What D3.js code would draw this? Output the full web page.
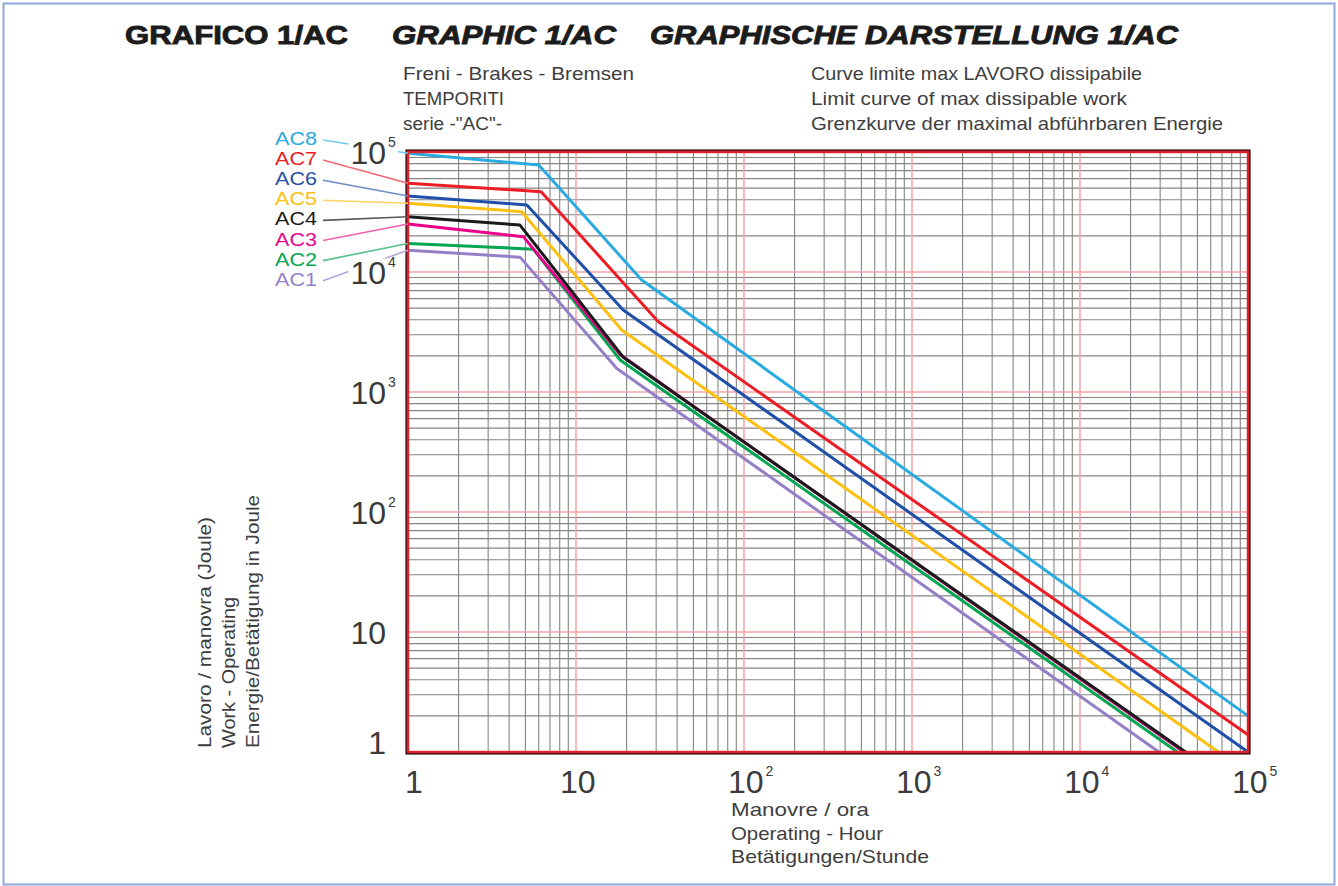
<!DOCTYPE html>
<html><head><meta charset="utf-8">
<script src="https://cdn.jsdelivr.net/npm/d3@7"></script>
<style>body{margin:0;background:#fff;overflow:hidden}</style>
</head><body>
<script>
// ---------- DATA ----------
const seriesNames = ["AC8","AC7","AC6","AC5","AC4","AC3","AC2","AC1"];
const seriesColors = ["#29abe2","#ed1c24","#1f4fa8","#fdc010","#1a1a1a","#ec008c","#00a651","#9580c8"];
const leaderColors = ["#72c8ee","#f26a70","#6d8cc9","#fdd462","#5a5a5a","#f25fb2","#55c38e","#b2a6da"];
// [operations per hour, joule]
const ac8 = [[1,97500],[6.0,78000],[24.6,8570],[100000,2]];
const ac7 = [[1,54800],[6.2,46700],[30.9,3850],[100000,1.39]];
const ac6 = [[1,43000],[5.1,36200],[19.1,4820],[100000,1]];
const ac5 = [[1,37400],[4.75,31800],[18.7,3290],[66600,1]];
const ac4 = [[1,28900],[4.64,24600],[19.1,1950],[42500,1]];
const ac3 = [[1,25100],[4.86,19700],[18.3,2050],[41500,1]];
const ac2 = [[1,17300],[5.57,15500],[18.3,1850],[38000,1]];
const ac1 = [[1,15200],[4.64,13300],[17.5,1570],[29500,1]];
const seriesData = [ac8,ac7,ac6,ac5,ac4,ac3,ac2,ac1];
const decadeTicks = [1,10,100,1000,10000,100000];
const titleTexts = ["GRAFICO 1/AC","GRAPHIC 1/AC","GRAPHISCHE DARSTELLUNG 1/AC"];
const subtitleLeft = ["Freni - Brakes - Bremsen","TEMPORITI","serie -\"AC\"-"];
const subtitleRight = ["Curve limite max LAVORO dissipabile","Limit curve of max dissipable work","Grenzkurve der maximal abführbaren Energie"];
const xTitle = ["Manovre / ora","Operating - Hour","Betätigungen/Stunde"];
const yTitle = ["Lavoro / manovra (Joule)","Work - Operating","Energie/Betätigung in Joule"];

// ---------- LAYOUT ----------
const W = 1338, H = 886;
const P = {left:408, right:1248, top:152, bottom:752};
const condensed = "'Liberation Sans Narrow','Arial Narrow','Liberation Sans',Arial,sans-serif";
const wide = "'Liberation Sans',Arial,sans-serif";

const svg = d3.select("body").append("svg").attr("width",W).attr("height",H);

// outer frame
svg.append("rect").attr("x",3.5).attr("y",3.5).attr("width",1331).attr("height",881)
  .attr("fill","#fff").attr("stroke","#8fa8dc").attr("stroke-width",2);

const x = d3.scaleLog().domain([1,1e5]).range([P.left,P.right]);
const y = d3.scaleLog().domain([1,1e5]).range([P.bottom,P.top]);
const isDecade = v => Math.abs(Math.log10(v) - Math.round(Math.log10(v))) < 1e-9;

// grid
const grid = svg.append("g");
const xt = x.ticks(), yt = y.ticks();
grid.selectAll(".vg").data(xt.filter(v=>!isDecade(v))).join("line")
  .attr("x1",d=>x(d)).attr("x2",d=>x(d)).attr("y1",P.top).attr("y2",P.bottom)
  .attr("stroke","#858585").attr("stroke-width",1.1);
grid.selectAll(".hg").data(yt.filter(v=>!isDecade(v))).join("line")
  .attr("y1",d=>y(d)).attr("y2",d=>y(d)).attr("x1",P.left).attr("x2",P.right)
  .attr("stroke","#858585").attr("stroke-width",1.1);
grid.selectAll(".vd").data(decadeTicks.slice(1,-1)).join("line")
  .attr("x1",d=>x(d)).attr("x2",d=>x(d)).attr("y1",P.top).attr("y2",P.bottom)
  .attr("stroke","#f2a3a6").attr("stroke-width",1.5);
grid.selectAll(".hd").data(decadeTicks.slice(1,-1)).join("line")
  .attr("y1",d=>y(d)).attr("y2",d=>y(d)).attr("x1",P.left).attr("x2",P.right)
  .attr("stroke","#f2a3a6").attr("stroke-width",1.5);

// curves (AC1 drawn first)
const line = d3.line().x(d=>x(d[0])).y(d=>y(d[1]));
const order = d3.range(seriesData.length).reverse();
svg.append("g").selectAll("path").data(order).join("path")
  .attr("d",i=>line(seriesData[i])).attr("fill","none")
  .attr("stroke",i=>seriesColors[i]).attr("stroke-width",3)
  .attr("stroke-linejoin","round");

// plot border
svg.append("rect").attr("x",P.left-1.8).attr("y",P.top-1.8)
  .attr("width",P.right-P.left+3.6).attr("height",P.bottom-P.top+3.6)
  .attr("fill","none").attr("stroke","#3a1012").attr("stroke-width",1.6);
svg.append("rect").attr("x",P.left).attr("y",P.top)
  .attr("width",P.right-P.left).attr("height",P.bottom-P.top)
  .attr("fill","none").attr("stroke","#e0222c").attr("stroke-width",2.4);

// legend leaders + labels
const legX = 275, legY0 = 138, legDy = 20.1;
const leg = svg.append("g");
leg.selectAll("line").data(seriesNames).join("line")
  .attr("x1",323).attr("y1",(d,i)=>legY0+i*legDy+2)
  .attr("x2",x(1)).attr("y2",(d,i)=>y(seriesData[i][0][1]))
  .attr("stroke",(d,i)=>leaderColors[i]).attr("stroke-width",1.6);

// y tick labels (with white background to break leader lines)
const yLab = svg.append("g").attr("font-family",wide).attr("fill","#3a3a3a");
decadeTicks.forEach(v=>{
  const e = Math.round(Math.log10(v));
  const g = yLab.append("g");
  const base = y(v) + 11.5 - (e===0 ? 9.5 : 0);
  g.append("text").attr("x",386).attr("y",base).attr("text-anchor","end")
    .attr("font-size",32).text(e===0?"1":"10");
  if (e>=2) g.append("text").attr("x",388).attr("y",base-17).attr("font-size",14).text(e);
  const bb = g.node().getBBox();
  g.insert("rect",":first-child").attr("x",bb.x-2).attr("y",bb.y+5).attr("width",bb.width+4).attr("height",bb.height-9).attr("fill","#fff");
});

// x tick labels
const xLab = svg.append("g").attr("font-family",wide).attr("fill","#3a3a3a");
decadeTicks.forEach(v=>{
  const e = Math.round(Math.log10(v));
  const sx = x(v) - (e===0 ? 3 : 16);
  const t = xLab.append("text").attr("x",sx).attr("y",792.5).attr("font-size",32).text(e===0?"1":"10");
  if (e>=2) xLab.append("text").attr("x",sx+t.node().getComputedTextLength()+2).attr("y",775.5).attr("font-size",14).text(e);
});

leg.selectAll("text").data(seriesNames).join("text")
  .attr("x",legX).attr("y",(d,i)=>legY0+i*legDy+7)
  .attr("font-family",wide).attr("font-size",18.5)
  .attr("textLength",42).attr("lengthAdjust","spacingAndGlyphs")
  .attr("fill",(d,i)=>seriesColors[i]).text(d=>d);

// titles
const titleX = [125,392,650], titleW = [223,224,528];
svg.append("g").selectAll("text").data(titleTexts).join("text")
  .attr("x",(d,i)=>titleX[i]).attr("y",44)
  .attr("font-family",wide).attr("font-weight","bold").attr("font-size",26)
  .attr("font-style",(d,i)=>i===0?"normal":"italic")
  .attr("fill","#1c1c1c").attr("stroke","#1c1c1c").attr("stroke-width",0.9)
  .attr("textLength",(d,i)=>titleW[i]).attr("lengthAdjust","spacingAndGlyphs")
  .text(d=>d);

// subtitles
const subLW = [231,101,99], subRW = [331,316,412];
svg.append("g").selectAll("text").data(subtitleLeft).join("text")
  .attr("x",403).attr("y",(d,i)=>80+i*25)
  .attr("font-family",condensed).attr("font-size",19).attr("fill","#3e3e3e")
  .attr("textLength",(d,i)=>subLW[i]).attr("lengthAdjust","spacingAndGlyphs").text(d=>d);
svg.append("g").selectAll("text").data(subtitleRight).join("text")
  .attr("x",811).attr("y",(d,i)=>80+i*25)
  .attr("font-family",condensed).attr("font-size",19).attr("fill","#3e3e3e")
  .attr("textLength",(d,i)=>subRW[i]).attr("lengthAdjust","spacingAndGlyphs").text(d=>d);

// axis titles
const xTW = [138,152,198];
svg.append("g").selectAll("text").data(xTitle).join("text")
  .attr("x",731).attr("y",(d,i)=>816+i*23.5)
  .attr("font-family",condensed).attr("font-size",19).attr("fill","#3e3e3e")
  .attr("textLength",(d,i)=>xTW[i]).attr("lengthAdjust","spacingAndGlyphs").text(d=>d);
const yTW = [231,151,253], yTX = [211,235,259];
svg.append("g").selectAll("text").data(yTitle).join("text")
  .attr("transform",(d,i)=>`translate(${yTX[i]},748) rotate(-90)`)
  .attr("font-family",condensed).attr("font-size",19).attr("fill","#3e3e3e")
  .attr("textLength",(d,i)=>yTW[i]).attr("lengthAdjust","spacingAndGlyphs").text(d=>d);
</script>
</body></html>
